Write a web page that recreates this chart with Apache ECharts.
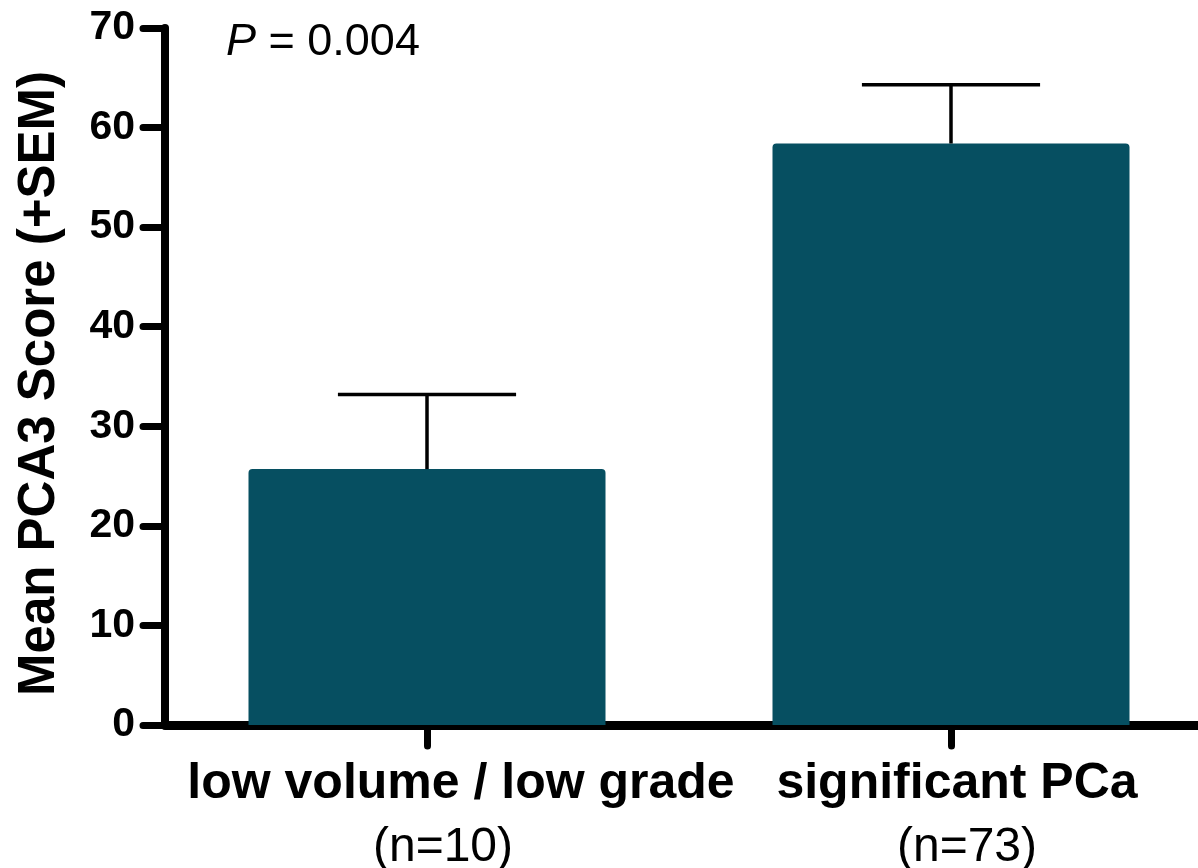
<!DOCTYPE html>
<html>
<head>
<meta charset="utf-8">
<script src="https://cdn.jsdelivr.net/npm/echarts@6/dist/echarts.min.js"></script>
<style>
  html, body { margin: 0; padding: 0; background: #fff; }
  #chart { width: 1198px; height: 868px; }
</style>
</head>
<body>
<div id="chart"></div>
<script>
const categories = ['low volume / low grade', 'significant PCa'];
const nLabels = ['(n=10)', '(n=73)'];
const means = [25.7, 58.4];
const sems = [7.5, 5.9];
const yTicks = [0, 10, 20, 30, 40, 50, 60, 70];

const font = "'Liberation Sans', Arial, Helvetica, sans-serif";
const barColor = '#064f61';

const chart = echarts.init(document.getElementById('chart'));

// error bar: vertical line from mean to mean+SEM, cap on top
function renderErrorBar(params, api) {
  const idx = api.value(0);
  const top = api.coord([idx, api.value(1) + api.value(2)]);
  const base = api.coord([idx, api.value(1)]);
  const half = api.size([1, 0])[0] * 0.17;
  const style = { stroke: '#000', lineWidth: 3.5, lineCap: 'butt' };
  return {
    type: 'group',
    children: [
      { type: 'line', shape: { x1: top[0], y1: top[1], x2: base[0], y2: base[1] }, style: style },
      { type: 'line', shape: { x1: top[0] - half, y1: top[1], x2: top[0] + half, y2: top[1] }, style: style }
    ]
  };
}

const option = {
  backgroundColor: '#fff',
  animation: false,
  grid: { left: 165, top: 28, height: 697, width: 1048, outerBoundsMode: 'none' },
  graphic: [{
    type: 'text',
    left: 226,
    top: 20,
    style: {
      text: '{i|P} = 0.004',
      font: "45px " + font,
      fill: '#000',
      rich: { i: { fontStyle: 'italic', fontSize: 45, fontFamily: font, fill: '#000' } }
    }
  }],
  xAxis: {
    type: 'category',
    data: categories,
    axisLine: { lineStyle: { color: '#000', width: 9 } },
    axisTick: { show: true, interval: 0, alignWithLabel: true, length: 21, lineStyle: { color: '#000', width: 7, cap: 'round' } },
    axisLabel: {
      interval: 0,
      margin: 27,
      color: '#000',
      formatter: (value, idx) => `{a${idx}|${value}}\n{b${idx}|${nLabels[idx]}}`,
      rich: {
        a0: { fontSize: 50, fontWeight: 'bold', fontFamily: font, color: '#000', lineHeight: 64, padding: [0, 0, 0, 68] },
        b0: { fontSize: 48, fontFamily: font, color: '#000', lineHeight: 64, padding: [0, 0, 0, 32] },
        a1: { fontSize: 50, fontWeight: 'bold', fontFamily: font, color: '#000', lineHeight: 64, padding: [0, 0, 0, 12] },
        b1: { fontSize: 48, fontFamily: font, color: '#000', lineHeight: 64, padding: [0, 0, 0, 32] }
      }
    }
  },
  yAxis: {
    type: 'value',
    min: yTicks[0],
    max: yTicks[yTicks.length - 1],
    interval: 10,
    name: 'Mean PCA3 Score (+SEM)',
    nameLocation: 'middle',
    nameGap: 100,
    nameTextStyle: { fontSize: 51, fontWeight: 'bold', fontFamily: font, color: '#000', padding: [0, 14, 0, 0] },
    splitLine: { show: false },
    axisLine: { show: true, lineStyle: { color: '#000', width: 8 } },
    axisTick: { show: true, length: 22, lineStyle: { color: '#000', width: 7, cap: 'round' } },
    axisLabel: { margin: 30, fontSize: 41, fontWeight: 'bold', fontFamily: font, color: '#000' }
  },
  series: [
    {
      type: 'bar',
      data: means,
      barWidth: 357,
      itemStyle: { color: barColor, borderRadius: [4, 4, 0, 0] },
      z: 2
    },
    {
      type: 'custom',
      renderItem: renderErrorBar,
      data: means.map((m, i) => [i, m, sems[i]]),
      z: 3
    }
  ]
};

chart.setOption(option);
</script>
</body>
</html>
